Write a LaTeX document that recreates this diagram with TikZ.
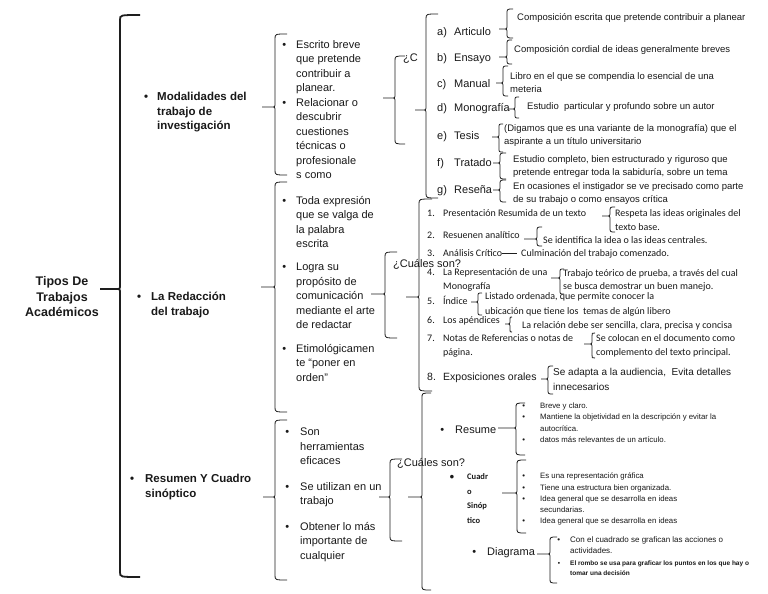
\documentclass[tikz,border=0pt]{standalone}
\usepackage{fontspec}
\setmainfont{Liberation Sans}
\newfontfamily\calibri{Carlito}
\usetikzlibrary{positioning}
\definecolor{inktext}{RGB}{25,25,25}
\definecolor{braceline}{RGB}{30,30,30}
\newcommand{\fsz}[2]{\fontsize{#1}{#2}\selectfont}
\newcommand{\bul}[1]{\llap{\textbullet\hspace{#1pt}}}
\newcommand{\mk}[2][17]{\makebox[#1pt][l]{#2}}
% left curly bracket: [style] x, top, bottom, tip y, tip length, curl
\newcommand{\curly}[7][]{%
  \draw[brk,#1] ({#2+#7},#3) .. controls (#2,#3) .. (#2,{#3+min(#7,5)})
    -- (#2,{#5-4}) .. controls (#2,#5) .. ({#2-4},#5) -- ({#2-#6},#5)
    -- ({#2-4},#5) .. controls (#2,#5) .. (#2,{#5+4})
    -- (#2,{#4-min(#7,5)}) .. controls (#2,#4) .. ({#2+#7},#4);}

\begin{document}
\begin{tikzpicture}[x=1pt,y=-1pt,
  brk/.style={draw=braceline,line width=0.8pt},
  lbl/.style={anchor=north west,inner sep=0pt,align=left,text=inktext},
  head/.style={lbl,font=\bfseries\fsz{11.5}{14.5}},
  txt/.style={lbl,font=\fsz{11}{14.5}},
  sub/.style={lbl,font=\fsz{9.5}{13}},
  cal/.style={lbl,font=\calibri\fsz{10}{13.5}},
  mini/.style={lbl,font=\fsz{7.8}{11.2}}]
\fill[white] (0,0) rectangle (768,594);
\useasboundingbox (0,0) rectangle (768,594);
% root and first level
\node[font=\bfseries\fsz{12.5}{15.5},align=center,text=inktext] (tipos) at (62,297)
  {Tipos De\\Trabajos\\Académicos};
\curly[line width=1.8pt]{120}{15}{577}{289}{20}{20}
\node[head] (modal) at (157,92) {\bul{9}Modalidades del\\trabajo de\\investigación};
\node[head] (redac) at (151,292) {\bul{10}La Redacción\\del trabajo};
\node[head] (resum) at (145,474) {\bul{11}Resumen Y Cuadro\\sinóptico};
% second level
\curly{275}{34}{175}{107}{13}{12}
\node[txt] (escrito) at (296,40) {\bul{10}Escrito breve\\que pretende\\contribuir a\\planear.};
\node[txt] (relac) at (296,98) {\bul{10}Relacionar o\\descubrir\\cuestiones\\técnicas o\\profesionale\\s como};
\curly{275}{182}{412}{287}{14}{12}
\node[txt] (toda) at (296,196) {\bul{10}Toda expresión\\que se valga de\\la palabra\\escrita};
\node[txt] (logra) at (296,263) {\bul{10}Logra su\\propósito de\\comunicación\\mediante el arte\\de redactar};
\node[txt] (etimo) at (296,344) {\bul{10}Etimológicamen\\te “poner en\\orden”};
\curly{275}{420}{580}{497}{12}{12}
\node[txt] (son) at (300,428) {\bul{11}Son\\herramientas\\eficaces};
\node[txt] (util) at (300,482) {\bul{11}Se utilizan en un\\trabajo};
\node[txt] (obten) at (300,522) {\bul{11}Obtener lo más\\importante de\\cualquier};
% kinds of work
\curly{395}{56}{144}{98}{12}{10}
\node[txt] (cc) at (403,54) {¿C};
\curly{426}{14}{198}{110}{11}{12}
\node[txt] (art) at (437,27) {\mk{a)}Articulo};
\node[txt] (ens) at (437,53) {\mk{b)}Ensayo};
\node[txt] (man) at (437,79) {\mk{c)}Manual};
\node[txt] (mono) at (437,103) {\mk{d)}Monografía};
\node[txt] (tesis) at (437,131) {\mk{e)}Tesis};
\node[txt] (trat) at (437,158) {\mk{f)}Tratado};
\node[txt] (resena) at (437,185) {\mk{g)}Reseña};
\curly{507}{9}{38}{29}{8}{6}
\node[sub] (dart) at (517,13) {Composición escrita que pretende contribuir a planear};
\curly{507}{40}{64}{57}{8}{5}
\node[sub] (dens) at (514,45) {Composición cordial de ideas generalmente breves};
\curly{503}{66}{96}{83}{7}{5}
\node[sub] (dman) at (510,72) {Libro en el que se compendia lo esencial de una\\meteria};
\curly{515}{97}{118}{109}{6}{4}
\node[sub] (dmono) at (527,102) {Estudio\ \ particular y profundo sobre un autor};
\curly{499}{124}{152}{137}{7}{4}
\node[sub] (dtesis) at (504,124) {(Digamos que es una variante de la monografía) que el\\aspirante a un título universitario};
\curly{500}{153}{179}{163}{7}{6}
\node[sub] (dtrat) at (513,155) {Estudio completo, bien estructurado y riguroso que\\pretende entregar toda la sabiduría, sobre un tema};
\curly{500}{180}{202}{190}{7}{6}
\node[sub] (dresena) at (513,182) {En ocasiones el instigador se ve precisado como parte\\de su trabajo o como ensayos crítica};
% parts of the writing
\curly{385}{252}{338}{294}{14}{12}
\node[txt] (cual1) at (393,259) {¿Cuáles son?};
\curly{419}{199}{391}{297}{13}{13}
\node[cal] (n1) at (427,209.5) {\mk[16]{1.}Presentación Resumida de un texto};
\node[cal] (n2) at (427,231.5) {\mk[16]{2.}Resuenen analítico};
\node[cal] (n3) at (427,249.5) {\mk[16]{3.}Análisis Crítico};
\node[cal] (n4) at (427,268.5) {\mk[16]{4.}La Representación de una\\\mk[16]{}Monografía};
\node[cal] (n5) at (427,295.5) {\mk[16]{5.}Índice};
\node[cal] (n6) at (427,316) {\mk[16]{6.}Los apéndices};
\node[cal] (n7) at (427,334.5) {\mk[16]{7.}Notas de Referencias o notas de\\\mk[16]{}página.};
\node[lbl,font=\fsz{10.5}{14}] (n8) at (427,372.8) {\mk[16]{8.}Exposiciones orales};
\curly{610}{207}{232}{216}{8}{5}
\node[cal] (d1) at (615,209.5) {Respeta las ideas originales del\\texto base.};
\curly{537}{227}{246}{239}{13}{5}
\node[cal] (d2) at (543,236.5) {Se identifica la idea o las ideas centrales.};
\node[cal] (d3) at (521,249.5) {Culminación del trabajo comenzado.};
\draw[brk,shorten >=4pt] (n3.east) -- (n3.east -| d3.west);
\curly{560}{269}{294}{278}{9}{4}
\node[lbl,font=\calibri\fsz{10}{12.5}] (d4) at (563,269.5) {Trabajo teórico de prueba, a través del cual\\se busca demostrar un buen manejo.};
\curly{478}{293}{315}{302}{7}{4}
\node[lbl,font=\calibri\fsz{10}{15}] (d5) at (485,292) {Listado ordenada, que permite conocer la\\ubicación que tiene los\ \ temas de algún libero};
\curly{510}{317}{332}{324}{5}{2}
\node[cal] (d6) at (522,321) {La relación debe ser sencilla, clara, precisa y concisa};
\curly{592}{333}{358}{344}{8}{3}
\node[cal] (d7) at (596,334.5) {Se colocan en el documento como\\complemento del texto principal.};
\curly{548}{366}{394}{379}{7}{5}
\node[lbl,font=\fsz{10}{15}] (d8) at (553,368) {Se adapta a la audiencia,\ \ Evita detalles\\innecesarios};
% summary and synoptic table
\curly{390}{459}{541}{497}{11}{12}
\node[txt] (cual2) at (397,458) {¿Cuáles son?};
\curly{422}{393}{590}{497}{14}{9}
\node[txt] (resume) at (455,425.6) {\bul{11}Resume};
\node[lbl,font=\calibri\bfseries\fsz{8.5}{14.7}] (cuadro) at (467,473.2) {\bul{13}Cuadr\\o\\Sinóp\\tico};
\node[txt] (diagr) at (487,547.6) {\bul{11}Diagrama};
\curly{516}{403}{455}{428}{18}{9}
\node[mini] (rsmitems) at (540,402.9) {\bul{15}Breve y claro.\\\bul{15}Mantiene la objetividad en la descripción y evitar la\\autocrítica.\\\bul{15}datos más relevantes de un artículo.};
\curly{517}{460}{533}{493}{15}{9}
\node[mini] (csitems) at (540,472.9) {\bul{15}Es una representación gráfica\\\bul{15}Tiene una estructura bien organizada.\\\bul{15}Idea general que se desarrolla en ideas\\secundarias.\\\bul{15}Idea general que se desarrolla en ideas};
\curly{550}{537}{583}{554}{13}{7}
\node[lbl,font=\fsz{8}{11}] (diaitems) at (570,536.9) {\bul{10}Con el cuadrado se grafican las acciones o\\actividades.};
\node[lbl,font=\bfseries\fsz{6.5}{10.5}] (rombo) at (570,560.4) {\bul{10}El rombo se usa para graficar los puntos en los que hay o\\tomar una decisión};
\end{tikzpicture}
\end{document}
